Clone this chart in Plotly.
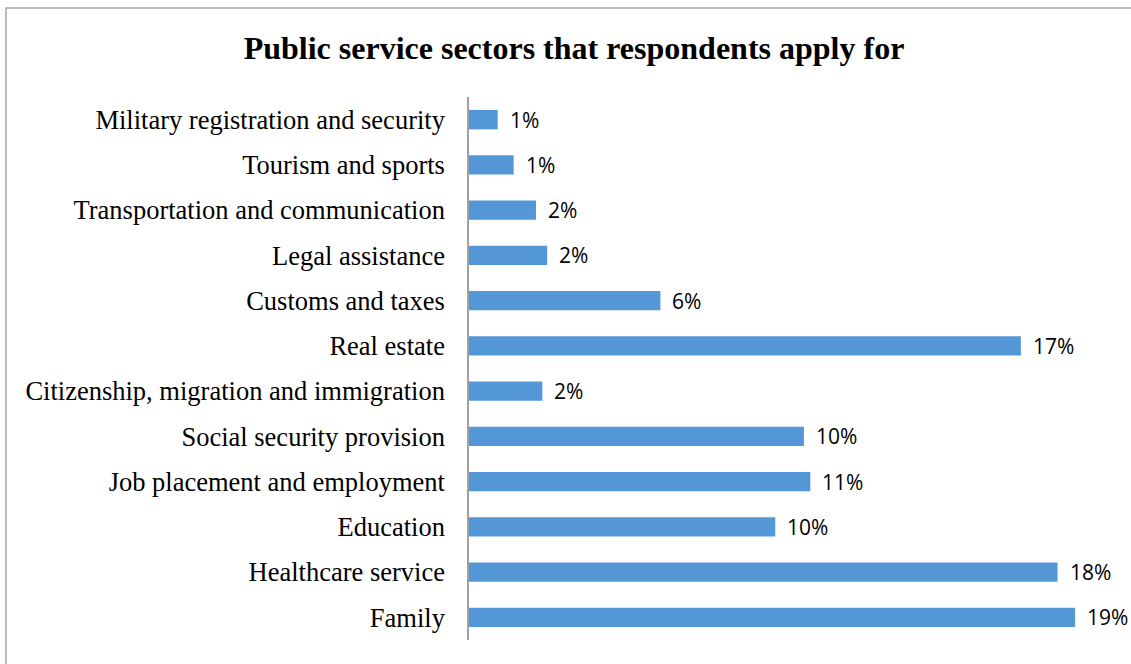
import plotly.graph_objects as go

# Sectors listed bottom-to-top as they appear on the category axis
sectors = [
    "Family",
    "Healthcare service",
    "Education",
    "Job placement and employment",
    "Social security provision",
    "Citizenship, migration and immigration",
    "Real estate",
    "Customs and taxes",
    "Legal assistance",
    "Transportation and communication",
    "Tourism and sports",
    "Military registration and security",
]
# Share of respondents (%)
shares = [19.0, 18.45, 9.6, 10.7, 10.5, 2.3, 17.3, 6.0, 2.45, 2.1, 1.4, 0.9]

title_text = "Public service sectors that respondents apply for"

W, H = 1131, 664
L, R, T, B = 469, 24, 97, 24
x_range = [0, 20]

fig = go.Figure()
fig.add_trace(go.Bar(
    y=sectors,
    x=shares,
    orientation="h",
    marker=dict(color="#5497D6", line=dict(width=0)),
    showlegend=False,
))

# value labels placed just to the right of each bar end
for s, v in zip(sectors, shares):
    fig.add_annotation(
        x=v, y=s, xref="x", yref="y",
        text=f"{v:.0f}%",
        showarrow=False, xanchor="left", yanchor="middle",
        xshift=10,
        font=dict(family="Open Sans, Noto Sans, sans-serif", size=21, color="#000000"),
    )

# chart frame
pw = W - L - R
ph = H - T - B
fig.add_shape(
    type="rect", xref="paper", yref="paper",
    x0=(6 - L) / pw, x1=(W + 20 - L) / pw,
    y0=-(B + 20) / ph, y1=(H - B - 8) / ph,
    line=dict(color="#A6A6A6", width=1.5), fillcolor="rgba(0,0,0,0)",
    layer="below",
)

fig.update_layout(
    width=W, height=H,
    margin=dict(l=L, r=R, t=T, b=B, pad=0),
    paper_bgcolor="white",
    plot_bgcolor="white",
    bargap=0.57,
    title=dict(
        text=f"<b>{title_text}</b>",
        x=574 / W, xanchor="center", xref="container",
        y=1 - 48 / H, yanchor="middle", yref="container",
        font=dict(family="Liberation Serif, Times New Roman, serif", size=32, color="#000000"),
    ),
    xaxis=dict(
        range=x_range, visible=False, showgrid=False, zeroline=False, fixedrange=True,
    ),
    yaxis=dict(
        showgrid=False, zeroline=False,
        showline=True, linecolor="#A0A0A0", linewidth=1.5,
        ticks="", ticklabelstandoff=17,
        tickfont=dict(family="Liberation Serif, Times New Roman, serif", size=26.5, color="#000000"),
        categoryorder="array", categoryarray=sectors,
    ),
)

fig.write_html("out.html")
